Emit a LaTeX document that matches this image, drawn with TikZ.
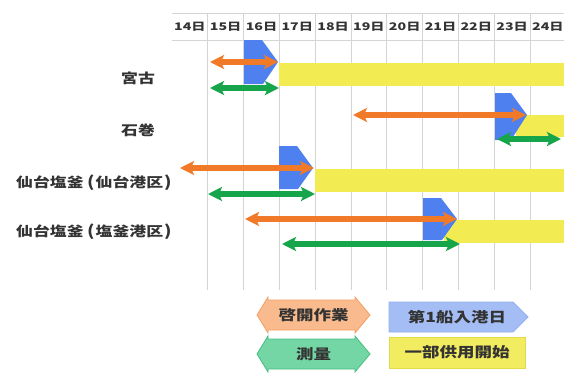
\documentclass[tikz,border=0pt]{standalone}
\usepackage{fontspec}
\newfontfamily\cjk{Noto Sans CJK JP}[FakeStretch=1.25]
\newfontfamily\cjkd{Noto Sans CJK JP}[FakeStretch=1.35]
\usetikzlibrary{arrows.meta}
\definecolor{orA}{HTML}{F07A28}
\definecolor{grA}{HTML}{17A54B}
\definecolor{blA}{HTML}{4F80EF}
\definecolor{yeA}{HTML}{F3EB52}
\definecolor{gridA}{HTML}{D4D4D4}
\definecolor{txtA}{HTML}{333333}
\definecolor{orL}{HTML}{F9BB8E}
\definecolor{orB}{HTML}{F2A066}
\definecolor{grL}{HTML}{74D6A4}
\definecolor{grB}{HTML}{45BF80}
\definecolor{blL}{HTML}{A4BDF4}
\definecolor{blB}{HTML}{93B0F0}
\definecolor{yeL}{HTML}{F2EC60}
\definecolor{yeB}{HTML}{E4DA48}
\newcommand{\lpar}{\hspace{3.5pt}{\fontsize{15}{15}\selectfont (}\hspace{1pt}}
\newcommand{\rpar}{\hspace{1pt}{\fontsize{15}{15}\selectfont )}}
\tikzset{
  arr/.style={line width=5.5pt,{Stealth[length=14pt,width=14pt,inset=3pt]}-{Stealth[length=14pt,width=14pt,inset=3pt]}},
  orarr/.style={arr,draw=orA},
  grarr/.style={arr,draw=grA},
  gridline/.style={draw=gridA,line width=0.9pt},
  daylab/.style={font=\cjkd\fontsize{10.5}{11}\selectfont\bfseries,text=txtA,inner sep=0pt},
  rowlab/.style={font=\cjk\fontsize{13.5}{14}\selectfont\bfseries,text=txtA,inner sep=0pt,anchor=west},
  leglab/.style={font=\cjk\fontsize{14}{15}\selectfont\bfseries,text=txtA,inner sep=0pt},
  ship/.style={fill=blA},
  bar/.style={fill=yeA},
}
\begin{document}
\begin{tikzpicture}[x=1pt,y=-1pt]
\useasboundingbox (0,0) rectangle (564,372);
% header and grid
\draw[gridline] (172,13) -- (564,13);
\draw[gridline] (172,40) -- (564,40);
\foreach \i in {1,...,10} {
  \draw[gridline] ({172+35.8*\i},13) -- ({172+35.8*\i},290);
}
\foreach \d [count=\i from 0] in {14,15,16,17,18,19,20,21,22,23,24} {
  \node[daylab] (d\d) at ({172+35.8*\i+17.9},26.5) {\d 日};
}
% row labels
\node[rowlab] (miyako) at (121,78) {宮古};
\node[rowlab] (ishi) at (121,130) {石巻};
\node[rowlab] (sendai) at (16,183) {仙台塩釜\lpar 仙台港区\rpar};
\node[rowlab] (shiogama) at (16,232) {仙台塩釜\lpar 塩釜港区\rpar};
% yellow bars
\fill[bar] (279,63) rectangle (564,86);
\fill[bar] (516,115) rectangle (564,137);
\fill[bar] (315,169) rectangle (564,192);
\fill[bar] (444,220) rectangle (564,243);
% blue ship arrival shapes
\fill[ship] (244,40) -- (262,40) -- (278,62) -- (263,84) -- (244,84) -- cycle;
\fill[ship] (495,93) -- (511,93) -- (527,115) -- (511,140) -- (495,140) -- cycle;
\fill[ship] (279,146) -- (297,146) -- (313,168) -- (298,189) -- (279,189) -- cycle;
\fill[ship] (423,198) -- (441,198) -- (457,219) -- (442,240) -- (423,240) -- cycle;
% arrows
\coordinate (o1a) at (210,62);  \coordinate (o1b) at (278,62);
\coordinate (g1a) at (210,88);  \coordinate (g1b) at (279,88);
\coordinate (o2a) at (353,115); \coordinate (o2b) at (526,115);
\coordinate (g2a) at (497,139); \coordinate (g2b) at (561,139);
\coordinate (o3a) at (180,168); \coordinate (o3b) at (314,168);
\coordinate (g3a) at (208,194); \coordinate (g3b) at (315,194);
\coordinate (o4a) at (245,219); \coordinate (o4b) at (457,219);
\coordinate (g4a) at (282,244); \coordinate (g4b) at (460,244);
\draw[orarr] (o1a) -- (o1b);
\draw[grarr] (g1a) -- (g1b);
\draw[orarr] (o2a) -- (o2b);
\draw[grarr] (g2a) -- (g2b);
\draw[orarr] (o3a) -- (o3b);
\draw[grarr] (g3a) -- (g3b);
\draw[orarr] (o4a) -- (o4b);
\draw[grarr] (g4a) -- (g4b);
% legend
\filldraw[fill=orL,draw=orB,line width=0.8pt] (257,315) -- (268,297) -- (268,300) -- (355,300) -- (355,297) -- (370,315) -- (355,333) -- (355,330) -- (268,330) -- (268,333) -- cycle;
\node[leglab] (l1) at (313.5,315) {啓開作業};
\filldraw[fill=grL,draw=grB,line width=0.8pt] (257,354) -- (268,336) -- (268,339) -- (355,339) -- (355,336) -- (370,354) -- (355,372) -- (355,369) -- (268,369) -- (268,372) -- cycle;
\node[leglab] (l2) at (313.5,354) {測量};
\filldraw[fill=blL,draw=blB,line width=0.8pt] (389,302) -- (513,302) -- (528,317) -- (513,332) -- (389,332) -- cycle;
\node[leglab] (l3) at (457,317) {第1船入港日};
\filldraw[fill=yeL,draw=yeB,line width=0.8pt] (389,337) rectangle (525,368);
\node[leglab] (l4) at (457,352.5) {一部供用開始};
\end{tikzpicture}
\end{document}
